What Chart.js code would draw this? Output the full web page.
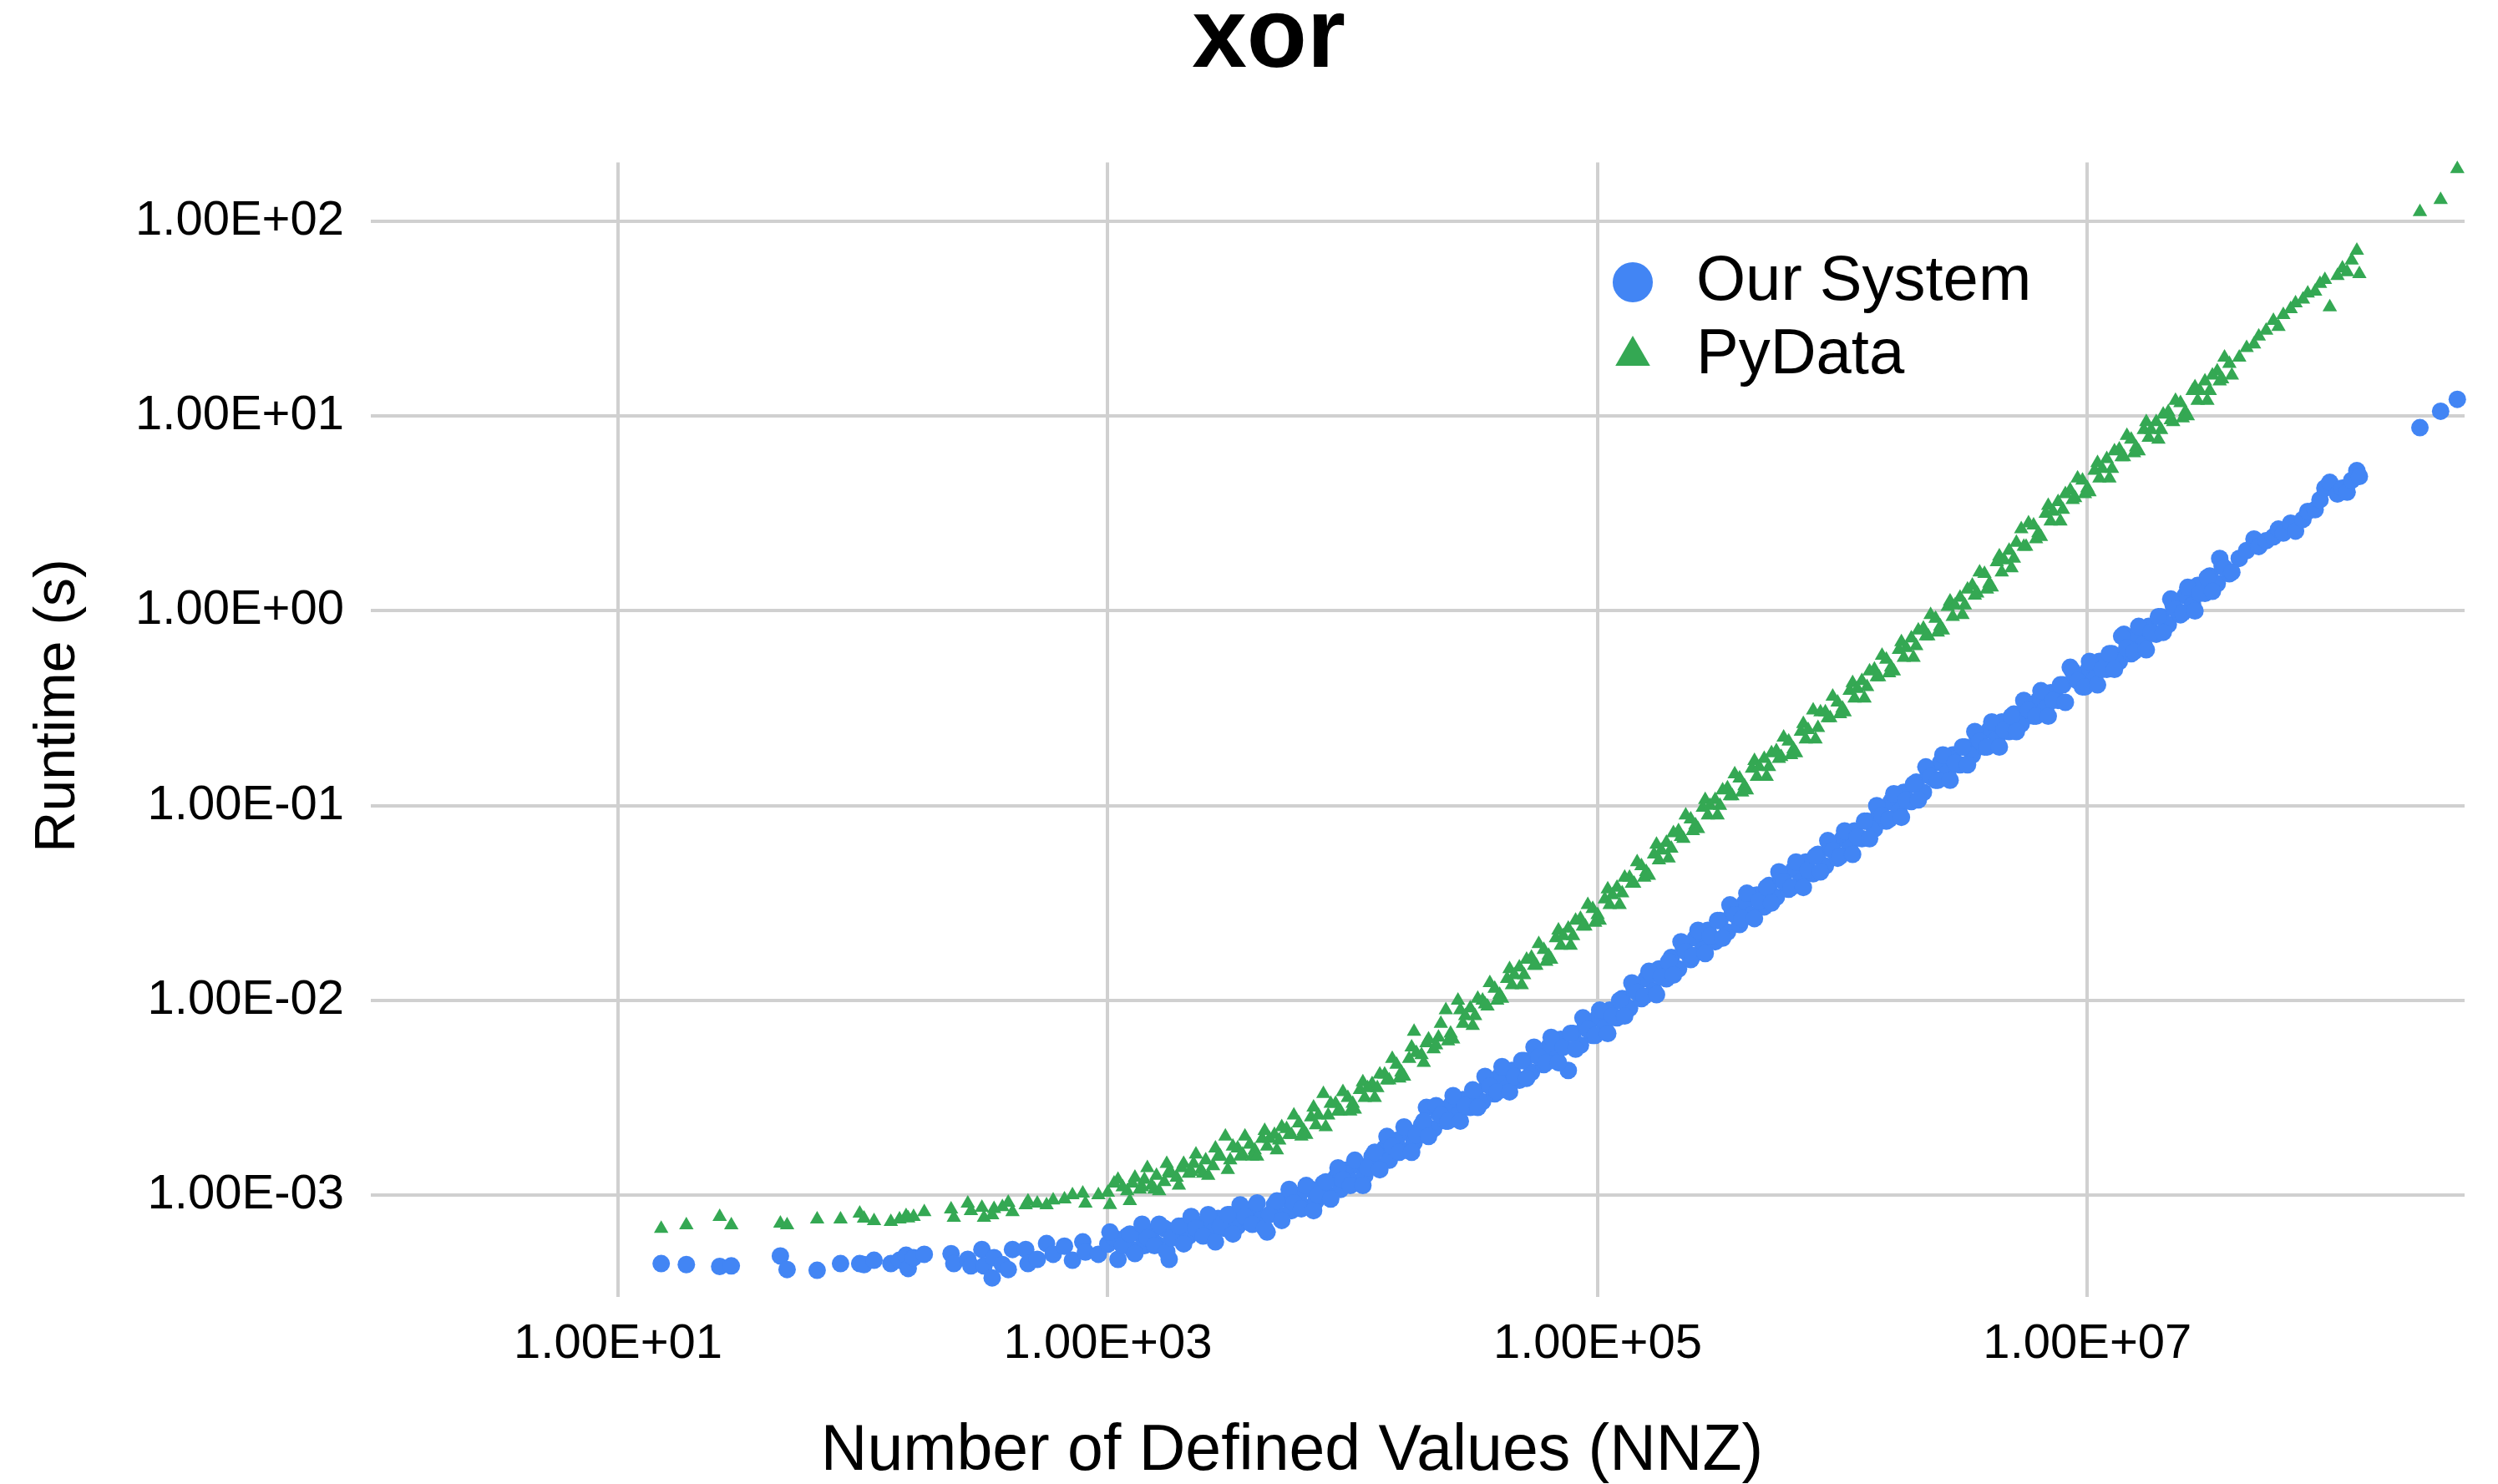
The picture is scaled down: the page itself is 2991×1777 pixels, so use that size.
<!DOCTYPE html>
<html>
<head>
<meta charset="utf-8">
<title>xor</title>
<script src="https://cdn.jsdelivr.net/npm/chart.js@4.4.0/dist/chart.umd.min.js"></script>
<style>
  html, body { margin: 0; padding: 0; background: #fff; }
  canvas { display: block; }
</style>
</head>
<body>
<canvas id="chart" width="2991" height="1777"></canvas>
<script>
// number of defined values, shared by both systems
const nnz = [
  15, 19, 26, 29, 46, 49, 65, 81, 97, 101, 111, 130, 141, 150, 153, 161, 178, 229, 235, 268,
  276, 306, 312, 337, 343, 371, 392, 408, 462, 472, 515, 562, 598, 665, 717, 790, 810, 915, 1000, 1060,
  1200, 1260, 1350, 1410, 1510, 1580, 1700, 1780, 1910, 2000, 2140, 2240, 2400, 2510, 2690, 2820, 3020, 3160, 3390, 3550,
  3800, 3980, 4270, 4470, 4790, 5010, 5370, 5620, 6030, 6310, 6760, 7080, 7590, 7940, 8510, 8910, 9550,
  10000, 10700, 11200, 12000, 12600, 13500, 14100, 15100, 15800, 17000, 17800, 19100, 20000, 21400, 22400, 24000, 25100, 26900, 28200, 30200,
  31600, 33900, 35500, 38000, 39800, 42700, 44700, 47900, 50100, 53700, 56200, 60300, 63100, 67600, 70800, 75900, 79400, 85100, 89100, 95500,
  1.00e5, 1.07e5, 1.12e5, 1.20e5, 1.26e5, 1.35e5, 1.41e5, 1.51e5, 1.58e5, 1.70e5, 1.78e5, 1.91e5, 2.00e5, 2.14e5, 2.24e5, 2.40e5, 2.51e5, 2.69e5, 2.82e5, 3.02e5,
  3.16e5, 3.39e5, 3.55e5, 3.80e5, 3.98e5, 4.27e5, 4.47e5, 4.79e5, 5.01e5, 5.37e5, 5.62e5, 6.03e5, 6.31e5, 6.76e5, 7.08e5, 7.59e5, 7.94e5, 8.51e5, 8.91e5, 9.55e5,
  1.00e6, 1.07e6, 1.12e6, 1.20e6, 1.26e6, 1.35e6, 1.41e6, 1.51e6, 1.58e6, 1.70e6, 1.78e6, 1.91e6, 2.00e6, 2.14e6, 2.24e6, 2.40e6, 2.51e6, 2.69e6, 2.82e6, 3.02e6,
  3.16e6, 3.39e6, 3.55e6, 3.80e6, 3.98e6, 4.27e6, 4.47e6, 4.79e6, 5.01e6, 5.37e6, 5.62e6, 6.03e6, 6.31e6, 6.76e6, 7.08e6, 7.59e6, 7.94e6, 8.51e6, 8.91e6, 9.55e6,
  1.00e7, 1.07e7, 1.12e7, 1.20e7, 1.26e7, 1.35e7, 1.41e7, 1.51e7, 1.58e7, 1.70e7, 1.78e7, 1.91e7, 2.00e7, 2.14e7, 2.24e7, 2.40e7, 2.51e7, 2.69e7, 2.82e7, 3.02e7,
  3.16e7, 3.39e7, 3.55e7, 3.80e7,
  4.17e7, 4.47e7, 4.79e7, 5.01e7, 5.37e7, 5.75e7, 6.03e7, 6.31e7, 6.76e7, 7.08e7, 7.59e7, 7.94e7, 8.51e7, 8.91e7, 9.33e7, 9.77e7,
  1.05e8, 1.10e8, 1.15e8, 1.20e8, 1.26e8, 1.29e8,
  2.28e8, 2.77e8, 3.24e8,
  // second batch of runs in the dense part
  1020, 1100, 1150, 1230, 1290, 1380, 1450, 1550, 1620, 1740, 1820, 1950, 2040, 2190, 2290, 2450, 2570, 2750, 2880, 3090,
  3240, 3470, 3630, 3890, 4070, 4370, 4570, 4900, 5130, 5500, 5750, 6170, 6460, 6920, 7240, 7760, 8130, 8710, 9120, 9770,
  10200, 11000, 11500, 12300, 12900, 13800, 14500, 15500, 16200, 17400, 18200, 19500, 20400, 21900, 22900, 24500, 25700, 27500, 28800, 30900,
  32400, 34700, 36300, 38900, 40700, 43700, 45700, 49000, 51300, 55000, 57500, 61700, 64600, 69200, 72400, 77600, 81300, 87100, 91200, 97700,
  1.02e5, 1.10e5, 1.15e5, 1.23e5, 1.29e5, 1.38e5, 1.45e5, 1.55e5, 1.62e5, 1.74e5, 1.82e5, 1.95e5, 2.04e5, 2.19e5, 2.29e5, 2.45e5, 2.57e5, 2.75e5, 2.88e5, 3.09e5,
  3.24e5, 3.47e5, 3.63e5, 3.89e5, 4.07e5, 4.37e5, 4.57e5, 4.90e5, 5.13e5, 5.50e5, 5.75e5, 6.17e5, 6.46e5, 6.92e5, 7.24e5, 7.76e5, 8.13e5, 8.71e5, 9.12e5, 9.77e5,
  1.02e6, 1.10e6, 1.15e6, 1.23e6, 1.29e6, 1.38e6, 1.45e6, 1.55e6, 1.62e6, 1.74e6, 1.82e6, 1.95e6, 2.04e6, 2.19e6, 2.29e6, 2.45e6, 2.57e6, 2.75e6, 2.88e6, 3.09e6,
  3.24e6, 3.47e6, 3.63e6, 3.89e6, 4.07e6, 4.37e6, 4.57e6, 4.90e6, 5.13e6, 5.50e6, 5.75e6, 6.17e6, 6.46e6, 6.92e6, 7.24e6, 7.76e6, 8.13e6, 8.71e6, 9.12e6, 9.77e6,
  1.02e7, 1.10e7, 1.15e7, 1.23e7, 1.29e7, 1.38e7, 1.45e7, 1.55e7, 1.62e7, 1.74e7, 1.82e7, 1.95e7, 2.04e7, 2.19e7, 2.29e7, 2.45e7, 2.57e7, 2.75e7, 2.88e7, 3.09e7,
  3.24e7, 3.47e7, 3.63e7, 3.89e7
];

// runtime in seconds
const ourSystem = [
  4.45e-4, 4.40e-4, 4.30e-4, 4.33e-4, 4.87e-4, 4.15e-4, 4.11e-4, 4.45e-4, 4.45e-4, 4.40e-4,
  4.63e-4, 4.45e-4, 4.63e-4, 4.91e-4, 4.20e-4, 4.77e-4, 4.97e-4, 5.00e-4, 4.45e-4, 4.68e-4,
  4.33e-4, 5.26e-4, 4.33e-4, 3.76e-4, 4.77e-4, 4.40e-4, 4.15e-4, 5.26e-4, 5.26e-4, 4.45e-4,
  4.68e-4, 5.64e-4, 4.97e-4, 5.47e-4, 4.63e-4, 5.75e-4, 5.10e-4, 4.97e-4, 5.60e-4, 6.04e-4,
  6.17e-4, 5.25e-4, 6.31e-4, 5.50e-4, 6.46e-4, 5.62e-4, 6.76e-4, 4.68e-4, 6.03e-4, 6.92e-4,
  6.17e-4, 7.24e-4, 6.31e-4, 7.08e-4, 6.46e-4, 7.59e-4, 6.76e-4, 7.94e-4, 6.92e-4, 8.13e-4,
  7.24e-4, 8.71e-4, 7.59e-4, 6.46e-4, 8.91e-4, 7.94e-4, 9.55e-4, 8.32e-4, 1.00e-3, 8.71e-4,
  1.07e-3, 9.33e-4, 1.15e-3, 1.00e-3, 1.23e-3, 1.07e-3, 1.35e-3,
  1.17e-3, 1.41e-3, 1.26e-3, 1.58e-3, 1.41e-3, 1.74e-3, 1.51e-3, 1.91e-3, 1.70e-3, 2.09e-3,
  1.86e-3, 2.29e-3, 2.82e-3, 2.19e-3, 2.63e-3, 2.40e-3, 2.88e-3, 2.57e-3, 3.09e-3, 2.82e-3,
  3.39e-3, 3.02e-3, 3.72e-3, 3.31e-3, 4.07e-3, 3.55e-3, 4.37e-3, 3.89e-3, 4.90e-3, 4.27e-3,
  5.25e-3, 4.68e-3, 5.75e-3, 5.01e-3, 6.31e-3, 4.37e-3, 6.76e-3, 5.89e-3, 7.41e-3, 6.61e-3,
  8.13e-3, 7.24e-3, 8.91e-3, 8.13e-3, 1.02e-2, 9.12e-3, 1.15e-2, 1.02e-2, 1.29e-2, 1.12e-2,
  1.45e-2, 1.29e-2, 1.66e-2, 1.45e-2, 1.86e-2, 1.62e-2, 2.09e-2, 1.82e-2, 2.29e-2, 2.00e-2,
  2.57e-2, 2.24e-2, 2.82e-2, 2.45e-2, 3.16e-2, 2.75e-2, 3.47e-2, 3.02e-2, 3.89e-2, 3.39e-2,
  4.27e-2, 3.72e-2, 4.68e-2, 4.07e-2, 5.13e-2, 4.47e-2, 5.62e-2, 4.90e-2, 6.17e-2, 5.37e-2,
  6.76e-2, 6.03e-2, 7.41e-2, 6.76e-2, 8.32e-2, 7.59e-2, 9.33e-2, 8.32e-2, 1.05e-1, 9.33e-2,
  1.17e-1, 1.05e-1, 1.32e-1, 1.17e-1, 1.48e-1, 1.35e-1, 1.66e-1, 1.48e-1, 1.82e-1, 1.62e-1,
  2.00e-1, 1.82e-1, 2.24e-1, 2.00e-1, 2.45e-1, 2.19e-1, 2.69e-1, 2.40e-1, 2.95e-1, 2.63e-1,
  3.24e-1, 2.88e-1, 3.47e-1, 3.16e-1, 3.80e-1, 3.47e-1, 4.17e-1, 5.13e-1, 4.57e-1, 4.07e-1,
  4.90e-1, 4.47e-1, 5.50e-1, 5.01e-1, 6.03e-1, 5.50e-1, 7.59e-1, 6.03e-1, 7.41e-1, 6.76e-1,
  8.32e-1, 7.59e-1, 9.33e-1, 8.51e-1, 1.07, 9.55e-1, 1.20, 1.07, 1.35, 1.23,
  1.51, 1.38, 1.70, 1.55,
  1.86, 2.04, 2.34, 2.14, 2.29, 2.40, 2.63, 2.51, 2.82, 2.57, 2.95, 3.24, 3.31, 3.72, 4.27, 4.57,
  3.98, 4.27, 4.07, 4.68, 5.25, 4.90,
  8.73, 10.6, 12.2,
  // second batch
  6.46e-4, 4.68e-4, 5.50e-4, 6.31e-4, 5.01e-4, 7.08e-4, 6.03e-4, 5.50e-4, 7.08e-4, 5.13e-4,
  6.03e-4, 6.92e-4, 5.62e-4, 7.76e-4, 6.76e-4, 6.17e-4, 7.94e-4, 5.75e-4, 6.92e-4, 7.94e-4,
  6.31e-4, 8.91e-4, 7.76e-4, 7.08e-4, 9.12e-4, 6.76e-4, 7.94e-4, 9.33e-4, 7.41e-4, 1.07e-3,
  9.12e-4, 8.51e-4, 1.12e-3, 8.32e-4, 1.00e-3, 1.17e-3, 9.55e-4, 1.38e-3, 1.20e-3, 1.12e-3,
  1.51e-3, 1.12e-3, 1.38e-3, 1.66e-3, 1.35e-3, 2.00e-3, 1.78e-3, 1.66e-3, 2.24e-3, 1.66e-3,
  2.04e-3, 2.40e-3, 2.00e-3, 2.88e-3, 2.57e-3, 2.40e-3, 3.24e-3, 2.40e-3, 2.88e-3, 3.47e-3,
  2.82e-3, 4.07e-3, 3.63e-3, 3.39e-3, 4.57e-3, 3.39e-3, 4.07e-3, 4.90e-3, 3.98e-3, 5.75e-3,
  5.13e-3, 4.79e-3, 6.46e-3, 4.79e-3, 5.75e-3, 6.76e-3, 5.62e-3, 8.13e-3, 7.08e-3, 6.61e-3,
  8.91e-3, 6.76e-3, 8.32e-3, 1.00e-2, 8.32e-3, 1.23e-2, 1.10e-2, 1.05e-2, 1.41e-2, 1.07e-2,
  1.32e-2, 1.58e-2, 1.35e-2, 2.00e-2, 1.78e-2, 1.70e-2, 2.29e-2, 1.74e-2, 2.14e-2, 2.57e-2,
  2.09e-2, 3.09e-2, 2.75e-2, 2.63e-2, 3.55e-2, 2.63e-2, 3.24e-2, 3.80e-2, 3.16e-2, 4.57e-2,
  4.07e-2, 3.80e-2, 5.13e-2, 3.80e-2, 4.68e-2, 5.50e-2, 4.57e-2, 6.61e-2, 5.89e-2, 5.50e-2,
  7.41e-2, 5.62e-2, 6.92e-2, 8.32e-2, 6.76e-2, 1.00e-1, 8.91e-2, 8.51e-2, 1.15e-1, 8.71e-2,
  1.07e-1, 1.29e-1, 1.07e-1, 1.58e-1, 1.41e-1, 1.35e-1, 1.82e-1, 1.35e-1, 1.66e-1, 2.00e-1,
  1.62e-1, 2.40e-1, 2.14e-1, 2.00e-1, 2.69e-1, 2.00e-1, 2.45e-1, 2.88e-1, 2.40e-1, 3.47e-1,
  3.09e-1, 2.88e-1, 3.89e-1, 2.88e-1, 3.47e-1, 4.17e-1, 3.39e-1, 4.90e-1, 4.37e-1, 4.07e-1,
  5.50e-1, 4.17e-1, 5.01e-1, 6.03e-1, 5.01e-1, 7.41e-1, 6.46e-1, 6.17e-1, 8.32e-1, 6.31e-1,
  7.76e-1, 9.33e-1, 7.76e-1, 1.15, 1.02, 9.77e-1, 1.32, 1.00, 1.23, 1.48,
  1.26, 1.86, 1.66, 1.58
];

const pyData = [
  6.73e-4, 7.01e-4, 7.74e-4, 7.01e-4, 7.15e-4, 7.01e-4, 7.51e-4, 7.51e-4, 8.05e-4, 7.59e-4,
  7.36e-4, 7.29e-4, 7.51e-4, 7.81e-4, 7.60e-4, 7.74e-4, 8.20e-4, 8.45e-4, 7.66e-4, 9.06e-4,
  8.30e-4, 8.63e-4, 7.66e-4, 7.89e-4, 8.50e-4, 8.70e-4, 9.15e-4, 8.20e-4, 8.89e-4, 9.30e-4,
  9.06e-4, 8.89e-4, 9.40e-4, 9.52e-4, 1.00e-3, 1.02e-3, 9.06e-4, 1.00e-3, 1.03e-3, 1.15e-3,
  1.05e-3, 1.15e-3, 1.07e-3, 1.20e-3, 1.12e-3, 1.26e-3, 1.17e-3, 1.32e-3, 1.23e-3, 1.38e-3,
  1.29e-3, 1.45e-3, 1.35e-3, 1.51e-3, 1.41e-3, 1.58e-3, 2.00e-3, 1.51e-3, 1.74e-3, 1.62e-3,
  1.82e-3, 1.70e-3, 1.95e-3, 1.78e-3, 2.04e-3, 1.91e-3, 2.19e-3, 2.04e-3, 2.34e-3, 2.14e-3,
  2.51e-3, 2.29e-3, 3.31e-3, 2.57e-3, 2.95e-3, 2.69e-3, 3.16e-3,
  2.95e-3, 3.47e-3, 3.16e-3, 3.72e-3, 3.55e-3, 4.17e-3, 3.89e-3, 4.68e-3, 4.27e-3, 5.01e-3,
  6.92e-3, 5.25e-3, 6.03e-3, 5.62e-3, 6.46e-3, 8.91e-3, 6.76e-3, 1.00e-2, 7.59e-3, 9.12e-3,
  8.32e-3, 1.00e-2, 9.33e-3, 1.15e-2, 1.07e-2, 1.29e-2, 1.20e-2, 1.48e-2, 1.35e-2, 1.66e-2,
  1.51e-2, 1.82e-2, 1.70e-2, 2.09e-2, 1.91e-2, 2.34e-2, 2.14e-2, 2.63e-2, 2.40e-2, 2.95e-2,
  2.75e-2, 3.31e-2, 3.09e-2, 3.80e-2, 3.55e-2, 4.27e-2, 3.98e-2, 4.90e-2, 4.57e-2, 5.62e-2,
  5.25e-2, 6.46e-2, 6.03e-2, 7.41e-2, 6.76e-2, 8.51e-2, 7.94e-2, 9.77e-2, 8.91e-2, 1.07e-1,
  1.00e-1, 1.23e-1, 1.12e-1, 1.38e-1, 1.26e-1, 1.55e-1, 1.41e-1, 1.74e-1, 1.58e-1, 1.91e-1,
  1.78e-1, 2.14e-1, 1.95e-1, 2.40e-1, 2.19e-1, 3.09e-1, 2.51e-1, 3.02e-1, 2.82e-1, 3.39e-1,
  3.16e-1, 3.89e-1, 3.55e-1, 4.37e-1, 4.07e-1, 5.01e-1, 4.57e-1, 5.62e-1, 5.13e-1, 6.31e-1,
  5.75e-1, 7.24e-1, 6.61e-1, 8.13e-1, 7.41e-1, 9.12e-1, 8.32e-1, 1.05, 9.33e-1, 1.17,
  1.07, 1.35, 1.23, 1.55, 1.38, 1.78, 1.58, 2.04, 1.86, 2.63,
  2.14, 2.75, 2.51, 3.16, 2.88, 3.63, 3.31, 4.17, 3.80, 4.68,
  4.27, 5.25, 4.79, 6.03, 5.37, 6.76, 6.17, 7.59, 6.92, 8.51,
  7.76, 9.33, 8.51, 10.5, 9.33, 11.7, 10.5, 13.5, 12.0, 15.1,
  13.5, 17.0, 15.5, 18.6,
  20.0, 22.4, 23.4, 25.7, 27.5, 30.9, 28.8, 33.1, 35.5, 38.0, 39.8, 42.7, 43.7, 47.9, 50.1, 36.3,
  52.5, 57.5, 55.0, 63.1, 70.8, 53.7,
  112, 129, 186,
  // second batch
  8.91e-4, 1.20e-3, 1.10e-3, 9.33e-4, 1.23e-3, 1.10e-3, 1.38e-3, 1.07e-3, 1.05e-3, 1.45e-3,
  1.29e-3, 1.12e-3, 1.45e-3, 1.32e-3, 1.62e-3, 1.29e-3, 1.26e-3, 1.74e-3, 1.58e-3, 1.35e-3,
  1.78e-3, 1.58e-3, 2.00e-3, 1.58e-3, 1.58e-3, 2.14e-3, 1.95e-3, 1.70e-3, 2.24e-3, 2.04e-3,
  2.57e-3, 2.00e-3, 2.04e-3, 2.82e-3, 2.57e-3, 2.24e-3, 2.95e-3, 2.69e-3, 3.39e-3, 2.69e-3,
  2.75e-3, 3.80e-3, 3.55e-3, 3.16e-3, 4.17e-3, 3.89e-3, 5.01e-3, 3.98e-3, 4.07e-3, 5.75e-3,
  5.37e-3, 4.79e-3, 6.31e-3, 5.89e-3, 7.59e-3, 6.17e-3, 6.31e-3, 8.91e-3, 8.32e-3, 7.41e-3,
  1.02e-2, 9.55e-3, 1.23e-2, 1.00e-2, 1.02e-2, 1.45e-2, 1.35e-2, 1.20e-2, 1.62e-2, 1.51e-2,
  1.95e-2, 1.58e-2, 1.62e-2, 2.29e-2, 2.14e-2, 1.91e-2, 2.57e-2, 2.40e-2, 3.09e-2, 2.51e-2,
  2.57e-2, 3.72e-2, 3.47e-2, 3.09e-2, 4.27e-2, 3.98e-2, 5.13e-2, 4.27e-2, 4.37e-2, 6.31e-2,
  5.89e-2, 5.37e-2, 7.24e-2, 6.92e-2, 8.91e-2, 7.41e-2, 7.59e-2, 1.07e-1, 1.00e-1, 8.91e-2,
  1.20e-1, 1.12e-1, 1.45e-1, 1.17e-1, 1.20e-1, 1.70e-1, 1.58e-1, 1.41e-1, 1.86e-1, 1.74e-1,
  2.24e-1, 1.82e-1, 1.86e-1, 2.63e-1, 2.45e-1, 2.19e-1, 3.02e-1, 2.82e-1, 3.63e-1, 2.95e-1,
  3.02e-1, 4.27e-1, 3.98e-1, 3.55e-1, 4.90e-1, 4.57e-1, 5.89e-1, 4.79e-1, 4.90e-1, 6.92e-1,
  6.46e-1, 5.75e-1, 7.94e-1, 7.41e-1, 9.55e-1, 7.76e-1, 7.94e-1, 1.12, 1.07, 9.55e-1,
  1.29, 1.20, 1.58, 1.29, 1.32, 1.91, 1.82, 1.66, 2.24, 2.14,
  2.82, 2.34, 2.40, 3.47, 3.24, 2.88, 3.98, 3.72, 4.79, 3.98,
  4.07, 5.75, 5.37, 4.79, 6.61, 6.17, 7.94, 6.46, 6.61, 9.33,
  8.51, 7.59, 10.2, 9.55, 12.0, 9.77, 10.0, 14.1, 13.5, 12.0,
  16.2, 15.1, 20.0, 16.2
];

const xTicks = [1e1, 1e3, 1e5, 1e7];
const yTicks = [1e-3, 1e-2, 1e-1, 1e0, 1e1, 1e2];

function sci(v) {
  const e = Math.floor(Math.log10(v) + 1e-9);
  const m = v / Math.pow(10, e);
  return m.toFixed(2) + 'E' + (e < 0 ? '-' : '+') + String(Math.abs(e)).padStart(2, '0');
}

const FONT = '"Liberation Sans", Arial, sans-serif';
Chart.defaults.font.family = FONT;
Chart.defaults.color = '#000';

// legend sits inside the plot, near the top right
const legendInside = {
  id: 'legendInside',
  afterLayout(chart) {
    const lg = chart.legend;
    lg.left = 1905;
    lg.top = 288;
    lg.right = chart.width;
    lg.bottom = chart.height;
  }
};

// axis titles are not centred on the plot in the original, so draw them here
const axisTitles = {
  id: 'axisTitles',
  afterDraw(chart) {
    const ctx = chart.ctx;
    ctx.save();
    ctx.fillStyle = '#000';
    ctx.textAlign = 'center';
    ctx.textBaseline = 'middle';
    ctx.font = '77px ' + FONT;
    ctx.fillText('Number of Defined Values (NNZ)', 1547, 1739);
    ctx.translate(70, 845);
    ctx.rotate(-Math.PI / 2);
    ctx.font = '68px ' + FONT;
    ctx.fillText('Runtime (s)', 0, 0);
    ctx.restore();
  }
};

const gridStyle = { color: '#d0d0d0', lineWidth: 4, drawTicks: false };

new Chart(document.getElementById('chart'), {
  type: 'scatter',
  data: {
    datasets: [
      {
        label: 'Our System',
        data: nnz.map((x, i) => ({ x, y: ourSystem[i] })),
        backgroundColor: '#4285F4',
        pointStyle: 'circle',
        pointRadius: 10.5,
        pointBorderWidth: 0,
        clip: false
      },
      {
        label: 'PyData',
        data: nnz.map((x, i) => ({ x, y: pyData[i] })),
        backgroundColor: '#34A853',
        pointStyle: 'triangle',
        pointRadius: 10,
        pointBorderWidth: 0,
        clip: false
      }
    ]
  },
  options: {
    responsive: false,
    animation: false,
    devicePixelRatio: 1,
    events: [],
    layout: { padding: { left: 87, right: 40, top: 0, bottom: 0 } },
    scales: {
      x: {
        type: 'logarithmic',
        min: 0.978,
        max: 3.47e8,
        afterBuildTicks: s => { s.ticks = xTicks.map(v => ({ value: v })); },
        afterFit: s => { s.height = 224; },
        grid: gridStyle,
        border: { display: false },
        ticks: { callback: v => sci(v), autoSkip: false, maxRotation: 0, padding: 22, font: { size: 58 } }
      },
      y: {
        type: 'logarithmic',
        min: 3.0e-4,
        max: 201,
        afterBuildTicks: s => { s.ticks = yTicks.map(v => ({ value: v })); },
        afterFit: s => { s.width = 357; },
        grid: gridStyle,
        border: { display: false },
        ticks: { callback: v => sci(v), autoSkip: false, padding: 32, font: { size: 58 } }
      }
    },
    plugins: {
      title: {
        display: true,
        text: 'xor',
        font: { size: 118, weight: 'bold', lineHeight: 0.8 },
        padding: { top: 0, bottom: 100 }
      },
      legend: {
        position: 'chartArea',
        align: 'start',
        labels: {
          usePointStyle: true,
          boxHeight: 34,
          boxWidth: 76,
          padding: 12,
          font: { size: 76 }
        }
      },
      tooltip: { enabled: false }
    }
  },
  plugins: [legendInside, axisTitles]
});
</script>
</body>
</html>
